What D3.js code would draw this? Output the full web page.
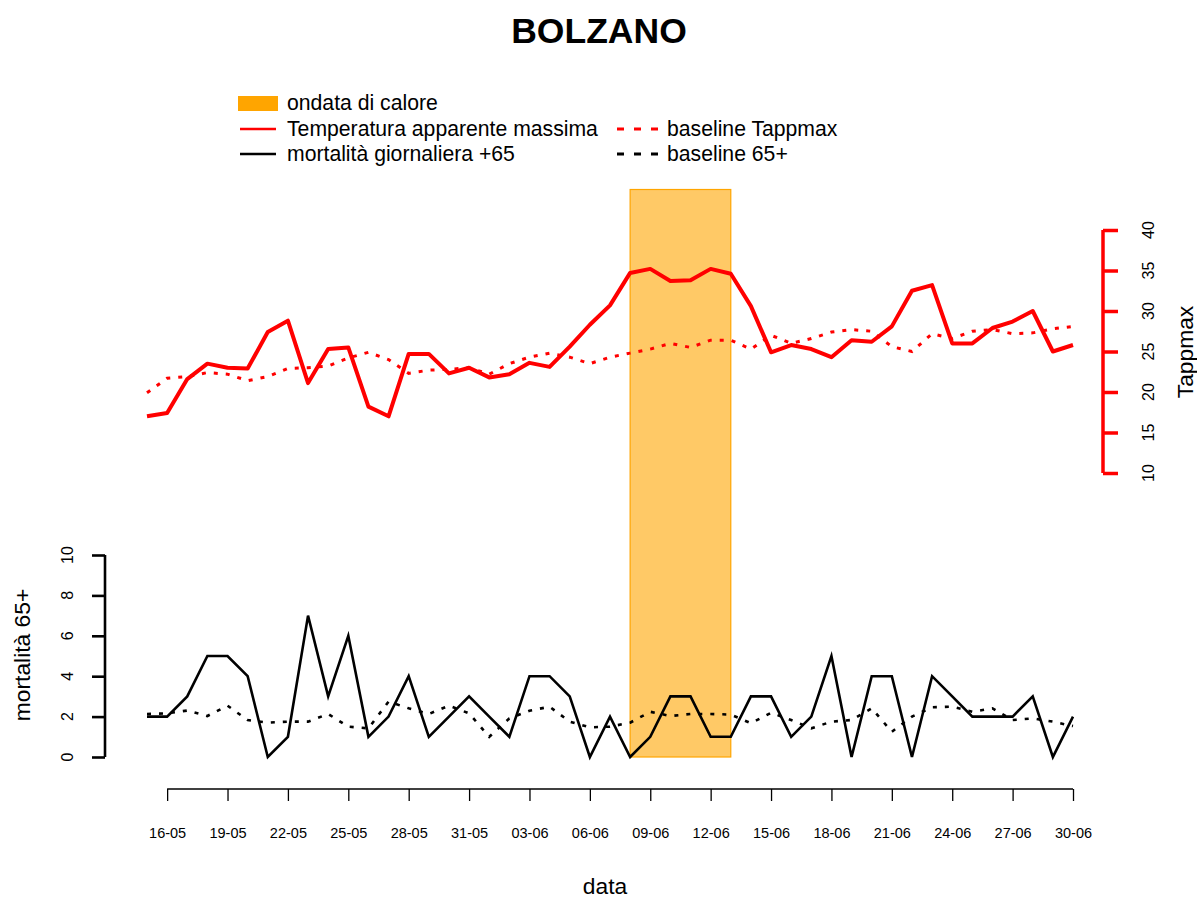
<!DOCTYPE html>
<html>
<head>
<meta charset="utf-8">
<script src="https://cdn.jsdelivr.net/npm/d3@7"></script>
<style>
  html, body { margin: 0; padding: 0; background: #fff; }
  text { font-family: "Liberation Sans", Arial, sans-serif; }
</style>
</head>
<body>
<svg id="chart" width="1197" height="899"></svg>
<script>
// ---------- DATA ----------
const dates = ["15-05","16-05","17-05","18-05","19-05","20-05","21-05","22-05","23-05","24-05",
  "25-05","26-05","27-05","28-05","29-05","30-05","31-05","01-06","02-06","03-06",
  "04-06","05-06","06-06","07-06","08-06","09-06","10-06","11-06","12-06","13-06",
  "14-06","15-06","16-06","17-06","18-06","19-06","20-06","21-06","22-06","23-06",
  "24-06","25-06","26-06","27-06","28-06","29-06","30-06"];

const tappmax = [17.0,17.4,21.6,23.5,23.0,22.9,27.4,28.8,21.1,25.3,
  25.5,18.2,17.0,24.7,24.7,22.3,23.0,21.8,22.2,23.6,
  23.1,25.6,28.3,30.7,34.7,35.2,33.7,33.8,35.2,34.6,
  30.6,24.9,25.8,25.3,24.3,26.4,26.2,28.1,32.5,33.2,
  26.0,26.0,27.9,28.7,30.0,25.0,25.8];

const baselineTappmax = [19.9,21.7,21.9,22.4,22.2,21.4,21.9,22.9,23.0,23.2,
  24.2,24.9,24.0,22.3,22.7,22.8,23.0,22.2,23.5,24.3,
  24.8,24.3,23.5,24.3,24.8,25.3,26.0,25.5,26.4,26.4,
  25.3,27.0,26.0,26.6,27.4,27.7,27.5,25.6,25.0,27.2,
  26.6,27.5,27.7,27.2,27.3,27.8,28.1];

const mortality = [2,2,3,5,5,4,0,1,7,3,
  6,1,2,4,1,2,3,2,1,4,
  4,3,0,2,0,1,3,3,1,1,
  3,3,1,2,5,0,4,4,0,4,
  3,2,2,2,3,0,2];

const baseline65 = [2.13,2.16,2.3,2.03,2.54,1.83,1.7,1.75,1.75,2.13,
  1.5,1.42,2.74,2.41,2.13,2.54,2.16,1.0,1.91,2.29,
  2.49,1.75,1.47,1.5,1.7,2.24,2.03,2.13,2.13,2.1,
  1.67,2.19,1.83,1.42,1.75,1.83,2.41,1.25,2.0,2.46,
  2.49,2.24,2.41,1.83,1.91,1.75,1.53];

const heatwave = ["08-06","13-06"];
const xTickLabels = ["16-05","19-05","22-05","25-05","28-05","31-05","03-06","06-06",
  "09-06","12-06","15-06","18-06","21-06","24-06","27-06","30-06"];
const tempTicks = [10,15,20,25,30,35,40];
const mortTicks = [0,2,4,6,8,10];

// ---------- SCALES ----------
const FONT = "Liberation Sans, Arial, sans-serif";
const svg = d3.select("#chart");
const x = d3.scaleLinear().domain([0, dates.length - 1]).range([147, 1073]);
const xd = d => x(dates.indexOf(d));
const yT = d3.scaleLinear().domain([10, 40]).range([473, 230]);
const yM = d3.scaleLinear().domain([0, 10]).range([757, 555]);

// Title
svg.append("text").attr("x", 599).attr("y", 43).attr("text-anchor", "middle")
  .attr("font-size", 35.5).attr("font-weight", "bold").text("BOLZANO");

// Heat wave rect
svg.append("rect")
  .attr("x", xd(heatwave[0])).attr("width", xd(heatwave[1]) - xd(heatwave[0]))
  .attr("y", yT(45)).attr("height", yM(0) - yT(45))
  .attr("fill", "orange").attr("fill-opacity", 0.6)
  .attr("stroke", "orange").attr("stroke-width", 1.2);

// Lines
const lineT = d3.line().x((d, i) => x(i)).y(d => yT(d));
const lineM = d3.line().x((d, i) => x(i)).y(d => yM(d));

svg.append("path").attr("d", lineT(baselineTappmax)).attr("fill", "none")
  .attr("stroke", "red").attr("stroke-width", 3).attr("stroke-dasharray", "4,8");
svg.append("path").attr("d", lineT(tappmax)).attr("fill", "none")
  .attr("stroke", "red").attr("stroke-width", 4).attr("stroke-linejoin", "round");
svg.append("path").attr("d", lineM(baseline65)).attr("fill", "none")
  .attr("stroke", "black").attr("stroke-width", 2.6).attr("stroke-dasharray", "4,8");
svg.append("path").attr("d", lineM(mortality)).attr("fill", "none")
  .attr("stroke", "black").attr("stroke-width", 2.6).attr("stroke-linejoin", "miter");

// X axis
const xTickIdx = xTickLabels.map(l => dates.indexOf(l));
const xAxis = svg.append("g").attr("transform", "translate(0,789)")
  .call(d3.axisBottom(x).tickValues(xTickIdx).tickSize(12).tickFormat(i => dates[i]));
xAxis.select(".domain").attr("d", `M${x(xTickIdx[0])},0H${x(xTickIdx[xTickIdx.length-1])}`)
  .attr("stroke-width", 1.3);
xAxis.selectAll(".tick line").attr("stroke-width", 1.3);
xAxis.selectAll(".tick text").attr("font-size", 14.5).attr("font-family", FONT)
  .attr("y", 49).attr("dy", null);

svg.append("text").attr("x", 605).attr("y", 894).attr("text-anchor", "middle")
  .attr("font-size", 22.8).text("data");

// Left axis (mortality)
const lAxis = svg.append("g").attr("transform", "translate(105,0)")
  .call(d3.axisLeft(yM).tickValues(mortTicks).tickSize(13).tickFormat(""));
lAxis.select(".domain").attr("d", `M0,${yM(0)}V${yM(10)}`).attr("stroke-width", 2.6);
lAxis.selectAll(".tick line").attr("stroke-width", 2.6);
svg.append("g").selectAll("text").data(mortTicks).join("text")
  .attr("transform", d => `translate(67,${yM(d)}) rotate(-90)`)
  .attr("text-anchor", "middle").attr("dy", "0.36em")
  .attr("font-size", 16).text(d => d);

svg.append("text").attr("transform", "translate(30,655) rotate(-90)")
  .attr("text-anchor", "middle").attr("font-size", 22.8).text("mortalità 65+");

// Right axis (Tappmax)
const rAxis = svg.append("g").attr("transform", "translate(1103,0)")
  .call(d3.axisRight(yT).tickValues(tempTicks).tickSize(15).tickFormat(""));
rAxis.select(".domain").attr("d", `M0,${yT(10)}V${yT(40)}`).attr("stroke", "red").attr("stroke-width", 3.5);
rAxis.selectAll(".tick line").attr("stroke", "red").attr("stroke-width", 3.5);
svg.append("g").selectAll("text").data(tempTicks).join("text")
  .attr("transform", d => `translate(1148,${yT(d)}) rotate(-90)`)
  .attr("text-anchor", "middle").attr("dy", "0.36em")
  .attr("font-size", 16).text(d => d);

svg.append("text").attr("transform", "translate(1193,352) rotate(-90)")
  .attr("text-anchor", "middle").attr("font-size", 22.8).text("Tappmax");

// Legend
const lg = svg.append("g");
lg.append("rect").attr("x", 238).attr("y", 96).attr("width", 40).attr("height", 15).attr("fill", "orange");
const legText = (tx, ty, s) => lg.append("text").attr("x", tx).attr("y", ty).attr("dy", "0.35em")
  .attr("font-size", 21.2).text(s);
legText(287, 103, "ondata di calore");
lg.append("line").attr("x1", 240).attr("x2", 276).attr("y1", 129).attr("y2", 129)
  .attr("stroke", "red").attr("stroke-width", 2.5);
legText(287, 129, "Temperatura apparente massima");
lg.append("line").attr("x1", 240).attr("x2", 276).attr("y1", 154).attr("y2", 154)
  .attr("stroke", "black").attr("stroke-width", 2.5);
legText(287, 154, "mortalità giornaliera +65");
lg.append("line").attr("x1", 617).attr("x2", 658).attr("y1", 129).attr("y2", 129)
  .attr("stroke", "red").attr("stroke-width", 3.2).attr("stroke-dasharray", "7,10");
legText(667, 129, "baseline Tappmax");
lg.append("line").attr("x1", 617).attr("x2", 658).attr("y1", 154).attr("y2", 154)
  .attr("stroke", "black").attr("stroke-width", 3.2).attr("stroke-dasharray", "7,10");
legText(667, 154, "baseline 65+");
</script>
</body>
</html>
